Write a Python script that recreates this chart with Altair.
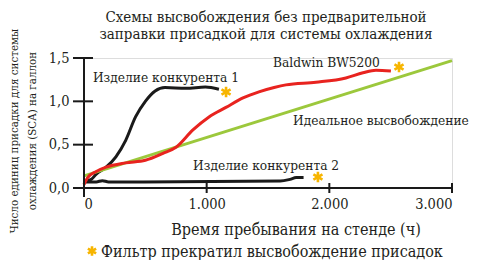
import altair as alt
import pandas as pd

# ---- data ----
comp1_x = [0, 60, 100, 180, 260, 340, 420, 500, 580, 660, 830, 990, 1100]
comp1_y = [0.07, 0.10, 0.16, 0.24, 0.36, 0.55, 0.82, 1.00, 1.12, 1.16, 1.15, 1.165, 1.14]

comp2_x = [0, 100, 150, 200, 1600, 1680, 1730, 1790]
comp2_y = [0.07, 0.07, 0.085, 0.07, 0.08, 0.10, 0.12, 0.12]

baldwin_x = [0, 30, 100, 180, 340, 500, 644, 750, 888, 1019, 1157, 1296, 1426,
             1550, 1646, 1891, 2135, 2274, 2380, 2502]
baldwin_y = [0.04, 0.12, 0.19, 0.24, 0.29, 0.32, 0.40, 0.47, 0.67, 0.82, 0.93, 1.04, 1.11,
             1.16, 1.19, 1.22, 1.27, 1.33, 1.36, 1.35]

ideal_x = [0, 3000]
ideal_y = [0.14, 1.47]

star_x = [1158, 2568, 1907]
star_y = [1.108, 1.396, 0.127]

label_text = ["Изделие конкурента 1", "Baldwin BW5200", "Идеальное высвобождение", "Изделие конкурента 2"]
label_x = [73, 1541, 1704, 889]
label_y = [1.223, 1.396, 0.727, 0.208]

x_ticks = [0, 1000, 2000, 3000]
y_ticks = [0, 0.5, 1, 1.5]

title_lines = ["Схемы высвобождения без предварительной", "заправки присадкой для системы охлаждения"]
y_title_lines = ["Число единиц присадки для системы", "охлаждения (SCA) на галлон"]
x_title = "Время пребывания на стенде (ч)"
legend_text = "Фильтр прекратил высвобождение присадок"

W, H = 368, 130
FONT = "'DejaVu Serif Condensed', 'DejaVu Serif', serif"
INK = "#231f20"
STAR = "#f7b500"
AX = "#1a1a1a"

xs = alt.Scale(domain=[0, 3000], nice=False)
ys = alt.Scale(domain=[0, 1.5], nice=False)

xenc = alt.X("x:Q", scale=xs, axis=alt.Axis(
    values=x_ticks, domain=False, ticks=False, grid=False, title=None,
    labelFont=FONT, labelFontSize=14.5, labelColor=INK, labelPadding=9,
    labelExpr="replace(format(datum.value, ','), ',', '.')"))
yenc = alt.Y("y:Q", scale=ys, axis=alt.Axis(
    values=y_ticks, domain=False, ticks=False, grid=False, title=None,
    labelFont=FONT, labelFontSize=14.5, labelColor=INK, labelPadding=15,
    labelExpr="replace(datum.label, '.', ',')"))

def line(xv, yv, color, interp):
    return alt.Chart(pd.DataFrame({"x": xv, "y": yv})).mark_line(
        color=color, strokeWidth=3, interpolate=interp, clip=False
    ).encode(x=xenc, y=yenc)

l_c2 = line(comp2_x, comp2_y, "#1a1a1a", "monotone")
l_c1 = line(comp1_x, comp1_y, "#1a1a1a", "monotone")
l_id = line(ideal_x, ideal_y, "#9cc83c", "linear")
l_bw = line(baldwin_x, baldwin_y, "#e8231f", "monotone")

ast_path = "M0,-1L0,1M-0.866,-0.5L0.866,0.5M-0.866,0.5L0.866,-0.5"

stars = alt.Chart(pd.DataFrame({"x": star_x, "y": star_y})).mark_point(
    shape=ast_path, size=110, stroke=STAR, strokeWidth=2.6, filled=False, opacity=1
).encode(x=alt.X("x:Q", scale=xs), y=alt.Y("y:Q", scale=ys))

labels = alt.Chart(pd.DataFrame({"x": label_x, "y": label_y, "t": label_text})).mark_text(
    font=FONT, fontSize=13.6, color=INK, align="left", baseline="alphabetic"
).encode(x=alt.X("x:Q", scale=xs), y=alt.Y("y:Q", scale=ys), text="t:N")

# axes drawn as rules
one = pd.DataFrame({"a": [0]})
x_dom = alt.Chart(one).mark_rule(color=AX, strokeWidth=2).encode(
    x=alt.value(-11), x2=alt.value(W), y=alt.value(H))
y_dom = alt.Chart(one).mark_rule(color=AX, strokeWidth=2).encode(
    x=alt.value(0), y=alt.value(0), y2=alt.value(H + 9))
x_tk = alt.Chart(pd.DataFrame({"v": x_ticks[1:]})).mark_rule(color=AX, strokeWidth=2).encode(
    x=alt.X("v:Q", scale=xs), y=alt.value(H - 5), y2=alt.value(H + 5))
y_tk = alt.Chart(pd.DataFrame({"v": y_ticks[1:]})).mark_rule(color=AX, strokeWidth=2).encode(
    y=alt.Y("v:Q", scale=ys), x=alt.value(-11), x2=alt.value(9))

def txt(t, x, y, size, align="center", angle=0, baseline="alphabetic"):
    kw = dict(font=FONT, fontSize=size, color=INK, align=align, baseline=baseline)
    if angle:
        kw["angle"] = angle
    return alt.Chart(pd.DataFrame({"t": [t]})).mark_text(**kw).encode(
        x=alt.value(x), y=alt.value(y), text="t:N")

t1 = txt(title_lines[0], 182, -36, 15)
t2 = txt(title_lines[1], 182, -19, 15)
yt1 = txt(y_title_lines[0], -69, 73, 11.5, angle=270, baseline="middle")
yt2 = txt(y_title_lines[1], -51, 73, 11.5, angle=270, baseline="middle")
xt = txt(x_title, 212, 177, 16)
lg = txt(legend_text, 17, 199, 16, align="left")
lg_star = alt.Chart(one).mark_point(
    shape=ast_path, size=90, stroke=STAR, strokeWidth=2.6, filled=False, opacity=1
).encode(x=alt.value(8), y=alt.value(193))

chart = alt.layer(
    l_c2, l_c1, l_id, l_bw, x_dom, y_dom, x_tk, y_tk, stars, labels,
    t1, t2, yt1, yt2, xt, lg, lg_star
).properties(
    width=W, height=H,
    autosize=alt.AutoSizeParams(type="none"),
    padding={"left": 76, "top": 50, "right": 19, "bottom": 72},
).configure_view(stroke=None).configure(background="white")

chart.save("out.html", embed_options={"renderer": "svg", "actions": False})
